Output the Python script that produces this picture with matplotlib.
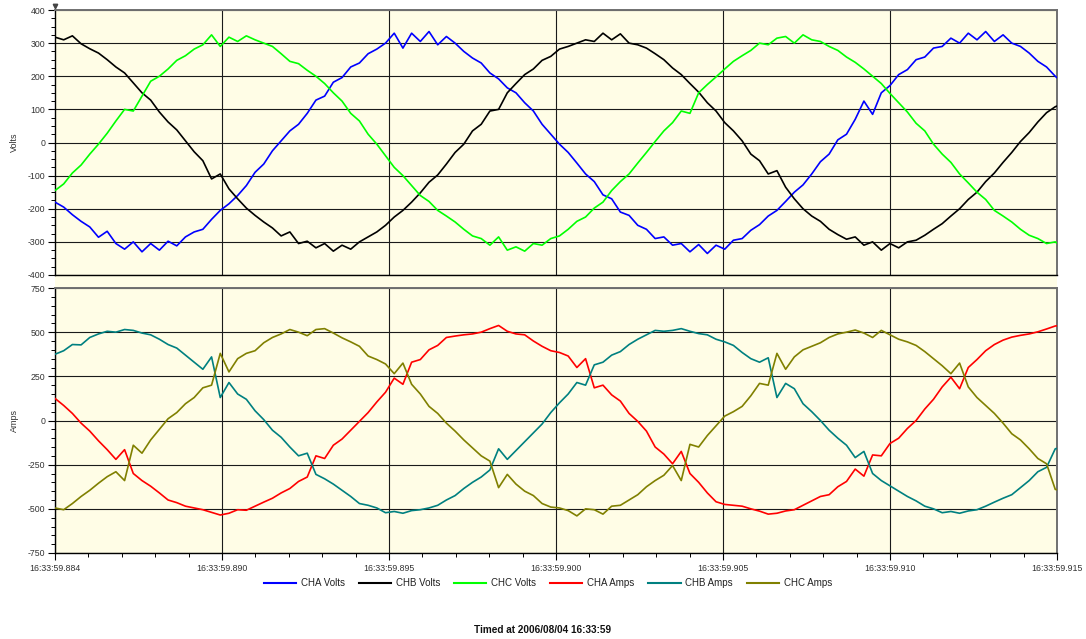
import numpy as np
import matplotlib
matplotlib.use("Agg")
import matplotlib.pyplot as plt
from matplotlib.ticker import MultipleLocator, FixedLocator
from matplotlib.patches import Rectangle
from matplotlib.lines import Line2D

plt.rcParams['font.family'] = ['Liberation Sans', 'DejaVu Sans']
plt.rcParams['axes.unicode_minus'] = False

# sampling: 64 samples per 60 Hz cycle, time in ms from 16:33:59.885
SAMPLE_MS = 16.6667 / 64

cha_volts = [-180, -195, -218, -238, -255, -286, -268, -305, -322, -300,
             -330, -305, -325, -298, -312, -285, -270, -262, -232, -205,
             -185, -160, -130, -90, -65, -25, 5, 35, 55, 88,
             128, 140, 182, 196, 228, 240, 268, 282, 300, 330,
             285, 330, 305, 335, 295, 320, 300, 275, 255, 240,
             210, 192, 165, 150, 120, 95, 55, 25, -5, -30,
             -62, -95, -118, -158, -170, -210, -220, -250, -262, -290,
             -285, -310, -305, -330, -308, -335, -310, -322, -295, -290,
             -265, -248, -222, -205, -178, -150, -128, -95, -58, -35,
             8, 25, 70, 125, 85, 150, 172, 205, 220, 250,
             258, 285, 290, 315, 300, 330, 310, 335, 305, 325,
             300, 290, 270, 245, 228, 200, 178]

chb_volts = [318, 310, 322, 298, 283, 270, 250, 228, 210, 180,
             150, 128, 92, 62, 38, 5, -28, -55, -110, -95,
             -140, -170, -198, -220, -240, -258, -282, -270, -305, -298,
             -318, -305, -328, -310, -322, -300, -285, -270, -250, -225,
             -205, -180, -152, -120, -98, -65, -30, -5, 35, 55,
             95, 100, 150, 178, 205, 222, 248, 260, 282, 290,
             300, 310, 305, 330, 310, 328, 300, 295, 285, 268,
             250, 225, 205, 178, 152, 120, 95, 60, 35, 5,
             -35, -55, -95, -85, -135, -170, -200, -222, -238, -262,
             -278, -292, -285, -310, -300, -325, -305, -318, -300, -295,
             -280, -262, -245, -222, -200, -172, -150, -118, -92, -60,
             -30, 3, 30, 62, 90, 108, 118]

chc_volts = [-145, -125, -92, -68, -35, -5, 28, 65, 100, 95,
             140, 185, 200, 222, 248, 262, 282, 295, 325, 290,
             318, 305, 322, 310, 300, 290, 268, 245, 238, 218,
             200, 178, 150, 125, 88, 65, 25, -5, -40, -75,
             -100, -130, -160, -178, -205, -222, -240, -262, -282, -290,
             -310, -285, -325, -315, -328, -305, -310, -290, -282, -262,
             -238, -225, -198, -180, -145, -118, -95, -62, -30, 3,
             35, 60, 95, 88, 150, 175, 198, 222, 245, 262,
             278, 300, 295, 315, 320, 300, 325, 310, 305, 290,
             278, 258, 242, 222, 200, 178, 148, 120, 92, 58,
             35, -5, -35, -60, -95, -122, -150, -172, -205, -222,
             -240, -262, -280, -290, -305, -300, -320]

cha_amps = [125, 85, 40, -15, -60, -115, -165, -220, -165, -300,
            -340, -372, -410, -450, -465, -485, -495, -505, -520, -535,
            -525, -505, -508, -485, -462, -440, -410, -385, -345, -320,
            -200, -215, -140, -105, -55, -5, 45, 105, 160, 240,
            205, 330, 345, 400, 425, 470, 478, 485, 490, 500,
            520, 538, 505, 490, 485, 450, 420, 395, 385, 365,
            300, 350, 185, 200, 145, 110, 40, -5, -60, -150,
            -190, -245, -175, -300, -350, -410, -460, -475, -480, -485,
            -500, -513, -530, -525, -512, -505, -480, -455, -430, -420,
            -375, -345, -275, -315, -195, -200, -130, -100, -45, 0,
            65, 120, 190, 245, 180, 300, 345, 395, 430, 455,
            472, 482, 490, 502, 518, 535, 540]

chb_amps = [375, 395, 430, 428, 470, 490, 505, 500, 515, 510,
            495, 485, 460, 430, 410, 370, 330, 290, 360, 130,
            215, 150, 120, 55, 5, -55, -95, -150, -200, -185,
            -305, -330, -360, -395, -430, -470, -480, -495, -522, -515,
            -525, -510, -505, -495, -480, -450, -425, -385, -350, -320,
            -280, -160, -220, -170, -120, -70, -20, 45, 100, 150,
            215, 200, 315, 330, 370, 390, 430, 460, 485, 510,
            505, 510, 520, 505, 492, 485, 460, 445, 425, 385,
            350, 330, 355, 130, 210, 180, 95, 50, 0, -55,
            -100, -140, -210, -175, -300, -340, -370, -400, -430, -455,
            -485, -500, -522, -515, -525, -512, -505, -485, -462, -440,
            -420, -380, -340, -290, -265, -160, -150]

chc_amps = [-495, -505, -470, -430, -395, -355, -318, -290, -340, -140,
            -185, -110, -50, 10, 45, 95, 130, 185, 200, 380,
            275, 350, 380, 395, 440, 470, 490, 515, 500, 480,
            515, 520, 495, 468, 445, 420, 365, 345, 320, 265,
            325, 205, 150, 80, 40, -15, -60, -110, -155, -200,
            -230, -380, -305, -360, -400, -425, -470, -490, -495, -510,
            -540, -500, -505, -530, -485, -480, -450, -420, -375, -340,
            -310, -255, -340, -135, -150, -85, -30, 25, 50, 80,
            140, 210, 200, 380, 290, 360, 400, 420, 440, 470,
            490, 500, 512, 495, 470, 510, 485, 460, 445, 425,
            390, 350, 310, 265, 325, 190, 130, 85, 40, -15,
            -75, -110, -160, -215, -245, -390, -400]

volt_series = [("CHA Volts", cha_volts, "#0000FF"),
               ("CHB Volts", chb_volts, "#000000"),
               ("CHC Volts", chc_volts, "#00FF00")]
amp_series = [("CHA Amps", cha_amps, "#FF0000"),
              ("CHB Amps", chb_amps, "#008080"),
              ("CHC Amps", chc_amps, "#808000")]

x_tick_ms = [0, 5, 10, 15, 20, 25, 30]
x_tick_labels = ["16:33:59.884", "16:33:59.890", "16:33:59.895", "16:33:59.900",
                 "16:33:59.905", "16:33:59.910", "16:33:59.915"]
title_text = "Timed at 2006/08/04 16:33:59"

YELLOW = "#FFFDE6"
TXT = "#333333"
W, H = 1086, 639

fig = plt.figure(figsize=(W / 100, H / 100), dpi=100)
fig.patch.set_facecolor("white")


def box(l, t, r, b):
    return [l / W, 1 - b / H, (r - l) / W, (b - t) / H]


fig.patches.append(Rectangle((55 / W, 1 - 553 / H), 1002 / W, 543 / H,
                             transform=fig.transFigure, facecolor=YELLOW,
                             edgecolor="none", zorder=-5))

ax1 = fig.add_axes(box(55, 10, 1057, 275))
ax2 = fig.add_axes(box(55, 288, 1057, 553))

for ax, series in ((ax1, volt_series), (ax2, amp_series)):
    for name, vals, col in series:
        t = np.arange(len(vals)) * SAMPLE_MS
        ax.plot(t, vals, color=col, lw=1.2, label=name, zorder=3)
    ax.set_facecolor(YELLOW)
    ax.set_axisbelow(True)
    ax.set_xlim(0, 30)
    ax.grid(True, which="major", color="#1a1a1a", lw=0.8)
    ax.tick_params(axis="y", which="major", direction="out", length=5, width=0.8,
                   color="black", labelsize=6.3, labelcolor=TXT, pad=2)
    ax.tick_params(axis="y", which="minor", direction="out", length=3, width=0.7,
                   color="black")
    for s in ("left", "bottom"):
        ax.spines[s].set_color("black")
        ax.spines[s].set_linewidth(1.0)
    for s in ("top", "right"):
        ax.spines[s].set_color("#707070")
        ax.spines[s].set_linewidth(1.4)

# top panel
ax1.set_ylim(-400, 400)
ax1.yaxis.set_major_locator(MultipleLocator(100))
ax1.yaxis.set_minor_locator(MultipleLocator(25))
ax1.xaxis.set_major_locator(FixedLocator([5, 10, 15, 20, 25]))
ax1.tick_params(axis="x", which="both", length=0, labelbottom=False)
ax1.set_ylabel("Volts", fontsize=6.5, color=TXT)
ax1.yaxis.set_label_coords(-0.036, 0.5)
ax1.plot([0], [1.016], transform=ax1.transAxes, marker="v", ms=3.2,
         color="#444444", clip_on=False)

# bottom panel
ax2.set_ylim(-750, 750)
ax2.yaxis.set_major_locator(MultipleLocator(250))
ax2.yaxis.set_minor_locator(MultipleLocator(50))
ax2.xaxis.set_major_locator(FixedLocator(x_tick_ms))
ax2.xaxis.set_minor_locator(MultipleLocator(1))
ax2.set_xticklabels(x_tick_labels)
ax2.tick_params(axis="x", which="major", direction="out", length=5, width=0.8,
                color="black", labelsize=6.3, labelcolor=TXT, pad=3)
ax2.tick_params(axis="x", which="minor", direction="out", length=3, width=0.7,
                color="black")
ax2.set_ylabel("Amps", fontsize=6.5, color=TXT)
ax2.yaxis.set_label_coords(-0.036, 0.5)

handles = [Line2D([], [], color=c, lw=1.5) for _, _, c in volt_series + amp_series]
labels = [n for n, _, _ in volt_series + amp_series]
fig.legend(handles, labels, loc="center", bbox_to_anchor=(548 / W, 1 - 583 / H),
           ncol=6, frameon=False, fontsize=7, handlelength=3.3,
           handletextpad=0.5, columnspacing=1.45, labelcolor="#222222")

fig.text(543 / W, 1 - 630 / H, title_text, ha="center", va="center",
         fontsize=7.2, fontweight="bold", color="#111111")

fig.savefig("out.png", dpi=100, facecolor="white")
